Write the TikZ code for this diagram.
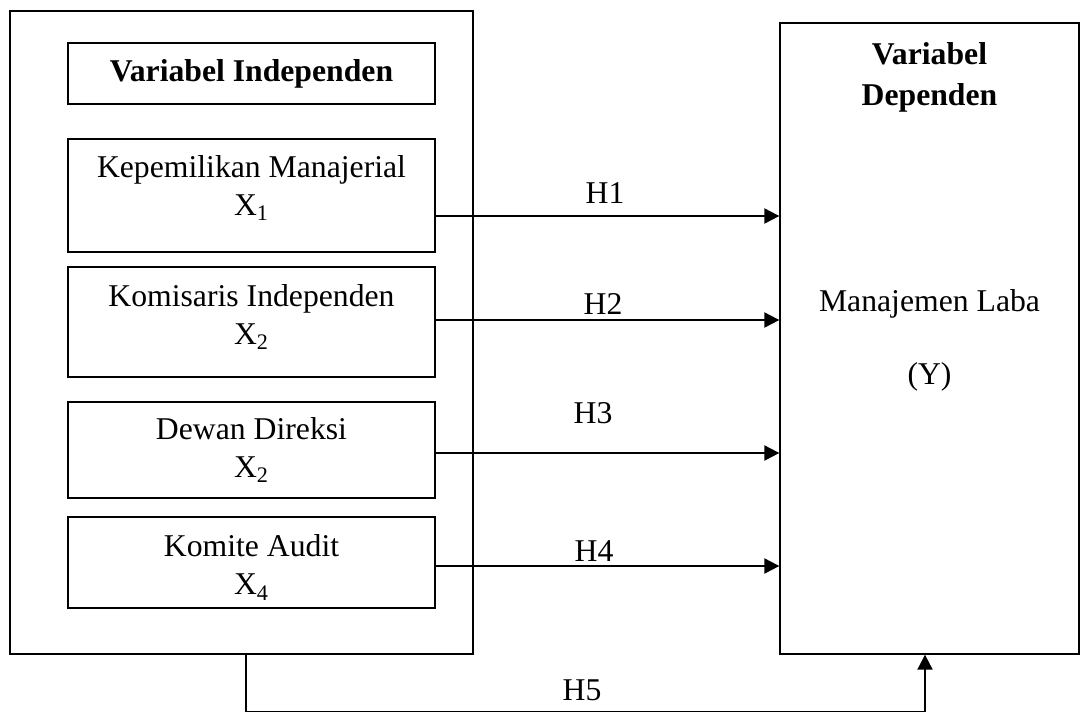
\documentclass[tikz,border=0pt]{standalone}
\usepackage{fontspec}
\setmainfont{Liberation Serif}
\usetikzlibrary{positioning,calc,arrows.meta}

\tikzset{
  base font/.style={font=\fontsize{15.85}{19}\selectfont},
  bold font/.style={font=\fontsize{15.85}{19}\selectfont\bfseries},
  frame/.style={draw, line width=0.65pt, inner sep=0pt},
  varbox/.style={frame, minimum width=183.5pt, align=center, base font},
  boxtxt/.style={inner sep=0pt, align=center, base font},
  txt/.style={anchor=base, base font},
  arr/.style={-{Triangle[length=7.5pt,width=7.5pt]}, line width=1pt},
}

\begin{document}
\begin{tikzpicture}[x=0.5pt, y=-0.5pt]
\useasboundingbox (0,0) rectangle (1080,713);

% Independent group
\node[frame, minimum width=231.5pt, minimum height=321.5pt] (grp) at (241.5,332.5) {};
\node[varbox, minimum height=30.5pt, bold font] (ttl) at (251.5,73.5) {Variabel Independen};

\node[varbox, minimum height=56.5pt] (km) at (251.5,195.5) {};
\node[boxtxt] (kmt) at ($(km)+(0,-7.5)$) {Kepemilikan Manajerial\\X\textsubscript{1}};

\node[varbox, minimum height=55pt] (ki) at (251.5,322) {};
\node[boxtxt] (kit) at ($(ki)+(0,-5)$) {Komisaris Independen\\X\textsubscript{2}};

\node[varbox, minimum height=48pt] (dd) at (251.5,450) {};
\node[boxtxt] (ddt) at (dd) {Dewan Direksi\\X\textsubscript{2}};

\node[varbox, minimum height=45.5pt] (ka) at (251.5,562.5) {};
\node[boxtxt] (kat) at ($(ka)+(0,5)$) {Komite Audit\\X\textsubscript{4}};

% Dependent variable
\node[frame, minimum width=149.5pt, minimum height=315.5pt] (dv) at (929.5,338.5) {};
\node[txt, bold font] (dvt1) at (929.5,64) {Variabel};
\node[txt, bold font] (dvt2) at (929.5,105) {Dependen};
\node[txt] (ml) at (929.5,311) {Manajemen Laba};
\node[txt] (yy) at (929.5,384) {(Y)};

% Hypotheses H1 - H4
\coordinate (a1) at ($(km.east)+(0,20.5)$);
\draw[arr] (a1) -- (a1 -| dv.west);
\node[txt] (h1) at (605,203) {H1};

\coordinate (a2) at ($(ki.east)+(0,-2)$);
\draw[arr] (a2) -- (a2 -| dv.west);
\node[txt] (h2) at (603,314) {H2};

\coordinate (a3) at ($(dd.east)+(0,3)$);
\draw[arr] (a3) -- (a3 -| dv.west);
\node[txt] (h3) at (593,423) {H3};

\coordinate (a4) at ($(ka.east)+(0,3.5)$);
\draw[arr] (a4) -- (a4 -| dv.west);
\node[txt] (h4) at (594,561) {H4};

% Simultaneous H5
\coordinate (h5a) at ($(grp.south)+(4.5,0)$);
\coordinate (h5b) at ($(dv.south)+(-4.5,0)$);
\coordinate (h5c) at ($(h5b)+(0,57)$);
\draw[line width=0.65pt] (h5a) |- (h5c);
\draw[arr] (h5c) -- (h5b);
\node[txt] (h5) at (582,700) {H5};

\end{tikzpicture}
\end{document}
